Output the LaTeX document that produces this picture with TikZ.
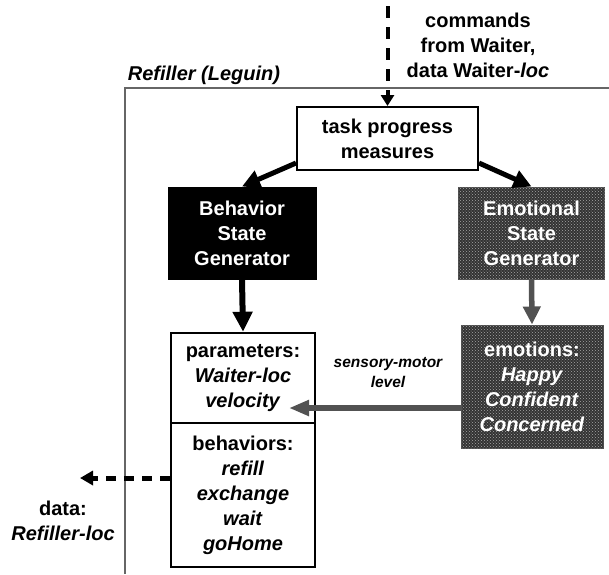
\documentclass[tikz,border=0pt]{standalone}
\usepackage{fontspec}
\setmainfont{Liberation Sans}
\usetikzlibrary{arrows.meta,patterns}

\begin{document}
\begin{tikzpicture}[x=1pt,y=-1pt,
  txt/.style={font=\fontsize{20}{25}\selectfont\bfseries, align=center, inner sep=0pt},
  smalltxt/.style={font=\fontsize{15.5}{20}\selectfont\bfseries\itshape, align=center, inner sep=0pt},
  plainbox/.style={txt, draw=black, fill=white, line width=2.5pt},
  blackbox/.style={txt, draw=black, fill=black, text=white, line width=1pt},
  dotbox/.style={txt, draw=black!70, fill=black!80, text=white, line width=1pt,
    postaction={pattern=crosshatch dots, pattern color=black!35}},
  thickarrow/.style={line width=5pt, -{Triangle[length=18pt,width=18pt]}},
  grayarrow/.style={line width=5.5pt, draw=black!68, fill=black!68},
  frameline/.style={draw=black!60, line width=1.3pt}
]
\useasboundingbox (0,0) rectangle (609,574);

% enclosing frame of the Refiller robot
\draw[frameline] (125,574) -- (125,88) -- (609,88);
\node[txt, font=\fontsize{20}{25}\selectfont\bfseries\itshape] (title) at (204,75) {Refiller (Leguin)};

% incoming commands
\node[txt] (cmd) at (478,45) {commands\\from Waiter,\\data Waiter-\textit{loc}};
\coordinate (cmdtop) at (387.5,6);

% boxes
\node[plainbox, line width=2pt, minimum width=181pt, minimum height=63pt] (task) at (387.5,138.5) {task progress\\measures};
\node[blackbox, minimum width=148pt, minimum height=92pt] (bsg) at (242,233) {Behavior\\State\\Generator};
\node[dotbox, minimum width=146pt, minimum height=92pt] (esg) at (531.5,233) {Emotional\\State\\Generator};
\node[plainbox, minimum width=144pt, minimum height=90pt] (params) at (243,378) {parameters:\\\textit{Waiter-loc}\\\textit{velocity}};
\node[plainbox, minimum width=144pt, minimum height=144pt] (behav) at (243,495) {behaviors:\\\textit{refill}\\\textit{exchange}\\\textit{wait}\\\textit{goHome}};
\node[dotbox, minimum width=142pt, minimum height=123pt] (emo) at (532,386.5) {emotions:\\\textit{Happy}\\\textit{Confident}\\\textit{Concerned}};

\node[smalltxt] (smlabel) at (388,373) {sensory-motor\\level};
\node[txt] (dataout) at (63,520.5) {data:\\\textit{Refiller-loc}};

\coordinate (smtip) at (289,408);
\coordinate (outtip) at (80,478);

% connectors
\draw[line width=4pt, dash pattern=on 12pt off 9pt, -{Triangle[length=11pt,width=13pt]}] (cmdtop) -- (task.north);
\draw[thickarrow] (task.195) -- (bsg.north);
\draw[thickarrow] (task.-15) -- (esg.north);
\draw[line width=6pt, -{Triangle[length=20pt,width=19pt]}] (bsg.south) -- (params.north);
\draw[grayarrow, -{Triangle[length=18pt,width=17pt]}] (esg.south) -- (emo.north);
\draw[grayarrow, -{Triangle[length=20pt,width=15pt]}] (emo.west |- smtip) -- (smtip);
\draw[line width=5pt, dash pattern=on 10pt off 8pt, -{Triangle[length=13pt,width=14pt]}] ([yshift=17pt]behav.west) -- (outtip);
\end{tikzpicture}
\end{document}
